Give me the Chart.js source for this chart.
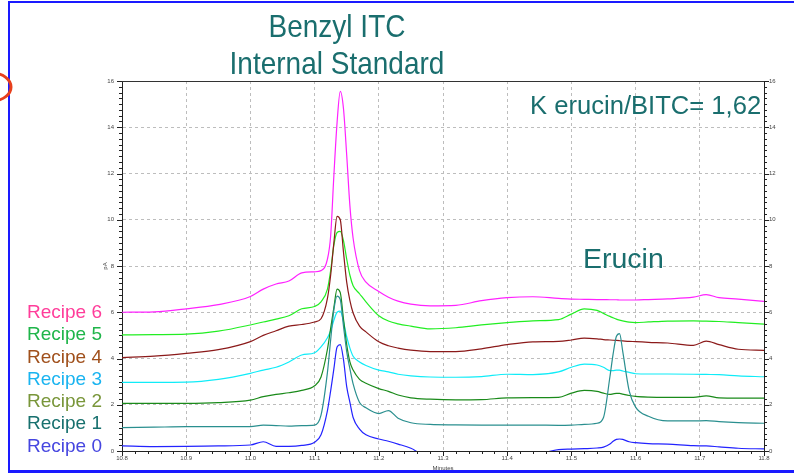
<!DOCTYPE html>
<html>
<head>
<meta charset="utf-8">
<script src="https://cdn.jsdelivr.net/npm/chart.js@4.4.1/dist/chart.umd.min.js"></script>
<style>
  html, body { margin: 0; padding: 0; background: #fff; }
</style>
</head>
<body>
<canvas id="chart" width="794" height="476"></canvas>
<script>
// retention time (minutes)
const minutes = [10.80, 10.85, 10.90, 10.95, 11.00, 11.02, 11.04, 11.06, 11.08, 11.10,
  11.11, 11.12, 11.125, 11.13, 11.135, 11.14, 11.145, 11.15, 11.155, 11.16,
  11.17, 11.18, 11.20, 11.215, 11.23, 11.25, 11.28, 11.32, 11.36, 11.40,
  11.44, 11.48, 11.50, 11.52, 11.54, 11.55, 11.56, 11.565, 11.57, 11.575,
  11.58, 11.59, 11.60, 11.62, 11.65, 11.69, 11.71, 11.73, 11.76, 11.80];

// signal (pA)
const recipe6 = [6.0, 6.02, 6.15, 6.33, 6.68, 7.0, 7.22, 7.35, 7.7, 7.75,
  7.8, 8.3, 9.3, 11.9, 14.2, 15.55, 14.8, 12.8, 10.6, 9.2,
  7.8, 7.3, 6.9, 6.65, 6.48, 6.35, 6.28, 6.3, 6.5, 6.63,
  6.67, 6.6, 6.57, 6.56, 6.55, 6.55, 6.54, 6.54, 6.54, 6.53,
  6.53, 6.53, 6.53, 6.55, 6.58, 6.65, 6.76, 6.63, 6.57, 6.47];
const recipe5 = [5.02, 5.03, 5.05, 5.18, 5.45, 5.58, 5.7, 5.85, 6.15, 6.25,
  6.45, 7.0, 7.8, 8.9, 9.45, 9.5, 9.1, 8.3, 7.6, 7.15,
  6.8, 6.45, 5.85, 5.62, 5.5, 5.4, 5.28, 5.33, 5.45, 5.55,
  5.63, 5.68, 5.92, 6.15, 6.08, 5.95, 5.82, 5.76, 5.7, 5.66,
  5.63, 5.57, 5.55, 5.58, 5.62, 5.63, 5.62, 5.6, 5.55, 5.49];
const recipe4 = [4.04, 4.1, 4.22, 4.38, 4.73, 5.0, 5.2, 5.4, 5.47, 5.58,
  5.72, 6.6, 7.6, 9.0, 10.15, 10.0, 8.6, 7.3, 6.5, 5.97,
  5.4, 5.15, 4.72, 4.55, 4.45, 4.36, 4.3, 4.3, 4.42, 4.6,
  4.72, 4.74, 4.8, 4.88, 4.85, 4.82, 4.8, 4.79, 4.78, 4.77,
  4.76, 4.74, 4.73, 4.7, 4.67, 4.57, 4.75, 4.6, 4.4, 4.35];
const recipe3 = [2.97, 2.97, 2.98, 3.1, 3.36, 3.5, 3.62, 3.85, 4.15, 4.25,
  4.5, 4.9, 5.2, 5.65, 6.0, 6.05, 5.6, 4.94, 4.45, 4.1,
  3.85, 3.7, 3.5, 3.42, 3.32, 3.25, 3.2, 3.19, 3.22, 3.32,
  3.3, 3.42, 3.62, 3.76, 3.72, 3.62, 3.48, 3.48, 3.5, 3.5,
  3.46, 3.4, 3.34, 3.33, 3.33, 3.32, 3.31, 3.3, 3.25, 3.21];
const recipe2 = [2.06, 2.06, 2.06, 2.09, 2.2, 2.35, 2.45, 2.52, 2.62, 2.82,
  3.2, 4.4, 5.3, 6.2, 7.0, 6.85, 5.7, 4.6, 3.85, 3.5,
  3.1, 2.93, 2.7, 2.58, 2.42, 2.3, 2.24, 2.21, 2.22, 2.3,
  2.31, 2.32, 2.5, 2.62, 2.58, 2.5, 2.45, 2.47, 2.49, 2.49,
  2.46, 2.4, 2.36, 2.33, 2.32, 2.32, 2.38, 2.3, 2.29, 2.29];
const recipe1 = [1.01, 1.03, 1.05, 1.05, 1.05, 1.12, 1.1, 1.08, 1.1, 1.12,
  1.55, 3.4, 4.8, 6.1, 6.7, 6.55, 5.4, 4.3, 3.55, 2.9,
  2.1, 1.87, 1.62, 1.75, 1.42, 1.22, 1.15, 1.13, 1.12, 1.12,
  1.12, 1.11, 1.12, 1.15, 1.2, 1.45, 3.21, 4.2, 4.95, 5.08,
  4.3, 2.6, 1.9, 1.5, 1.3, 1.3, 1.31, 1.27, 1.23, 1.2];
const recipe0 = [0.22, 0.19, 0.2, 0.22, 0.26, 0.4, 0.2, 0.2, 0.24, 0.38,
  0.7, 1.75, 2.6, 3.55, 4.5, 4.6, 3.95, 2.78, 2.1, 1.45,
  0.95, 0.7, 0.52, 0.42, 0.3, 0.12, -0.3, -0.3, -0.3, -0.3,
  -0.2, 0.06, 0.08, 0.1, 0.13, 0.17, 0.3, 0.42, 0.5, 0.52,
  0.5, 0.4, 0.36, 0.32, 0.3, 0.23, 0.22, 0.18, 0.12, 0.09];

const recipeNames = ["Recipe 0", "Recipe 1", "Recipe 2", "Recipe 3", "Recipe 4", "Recipe 5", "Recipe 6"];
const recipeValues = [recipe0, recipe1, recipe2, recipe3, recipe4, recipe5, recipe6];
const lineColors = ["#2323ff", "#2a8f8f", "#1a8a1a", "#10ecf8", "#8b1a1a", "#22ee22", "#ff22ff"];
const nameColors = ["#4646e0", "#17706e", "#79963a", "#1ab4f0", "#a0501c", "#1fb54a", "#ff3d9a"];

const titleLines = ["Benzyl ITC", "Internal Standard"];
const ratioText = "K erucin/BITC= 1,62";
const peakText = "Erucin";

const X_MIN = 10.8, X_MAX = 11.8, Y_MIN = 0, Y_MAX = 16;
const TEAL = "#1a6e6e";
const FONT = '"Liberation Sans", Arial, sans-serif';

const isMajorX = (v) => Math.abs(v * 10 - Math.round(v * 10)) < 1e-6;
const isMajorY = (v) => Math.abs(v / 2 - Math.round(v / 2)) < 1e-6;

// ticks, frame, texts
const decor = {
  id: "decor",
  beforeDraw(chart) {
    const ctx = chart.ctx;
    ctx.save();
    ctx.fillStyle = "#fff";
    ctx.fillRect(0, 0, chart.width, chart.height);
    ctx.restore();
  },
  afterDraw(chart) {
    const { ctx, chartArea: a, scales } = chart;
    ctx.save();

    // top of frame
    ctx.strokeStyle = "#333";
    ctx.lineWidth = 1;
    ctx.beginPath();
    ctx.moveTo(a.left, a.top + 0.5);
    ctx.lineTo(a.right, a.top + 0.5);
    ctx.stroke();

    // tick marks
    ctx.strokeStyle = "#222";
    ctx.beginPath();
    scales.x.ticks.forEach((t) => {
      const px = Math.round(scales.x.getPixelForValue(t.value)) + 0.5;
      const len = isMajorX(t.value) ? 5 : 3;
      ctx.moveTo(px, a.bottom);
      ctx.lineTo(px, a.bottom + len);
    });
    scales.y.ticks.forEach((t) => {
      const py = Math.round(scales.y.getPixelForValue(t.value)) + 0.5;
      const len = isMajorY(t.value) ? 5 : 3;
      ctx.moveTo(a.left - len, py);
      ctx.lineTo(a.left, py);
      ctx.moveTo(a.right, py);
      ctx.lineTo(a.right + len, py);
    });
    ctx.stroke();

    // axis captions
    ctx.fillStyle = "#444";
    ctx.font = "6px " + FONT;
    ctx.textAlign = "center";
    ctx.textBaseline = "middle";
    ctx.fillText("Minutes", (a.left + a.right) / 2, 468);
    ctx.save();
    ctx.translate(a.left - 17, (a.top + a.bottom) / 2);
    ctx.rotate(-Math.PI / 2);
    ctx.fillText("pA", 0, 0);
    ctx.restore();

    // title
    ctx.fillStyle = TEAL;
    ctx.textAlign = "center";
    ctx.textBaseline = "alphabetic";
    ctx.font = "28px " + FONT;
    [37, 74].forEach((y, i) => {
      ctx.save();
      ctx.translate(337, y);
      ctx.scale(1, 1.12);
      ctx.fillText(titleLines[i], 0, 0);
      ctx.restore();
    });

    // annotations
    ctx.textAlign = "left";
    ctx.font = "25.6px " + FONT;
    ctx.fillText(ratioText, 530, 114);
    ctx.font = "28.5px " + FONT;
    ctx.fillText(peakText, 583, 268);

    // recipe names
    ctx.textAlign = "right";
    ctx.textBaseline = "middle";
    ctx.font = "19px " + FONT;
    for (let i = 6; i >= 0; i--) {
      ctx.fillStyle = nameColors[i];
      ctx.fillText(recipeNames[i], 102, 312.7 + (6 - i) * 22.3);
    }

    // blue slide frame
    ctx.fillStyle = "#1a1aff";
    ctx.fillRect(8, 1, 2, 471);
    ctx.fillRect(8, 1, 786, 2);
    ctx.fillRect(8, 470, 786, 3);

    // red marker arc at left edge
    ctx.strokeStyle = "#e8401c";
    ctx.lineWidth = 3;
    ctx.beginPath();
    ctx.ellipse(-8, 87, 19, 14, 0, -Math.PI / 2, Math.PI / 2);
    ctx.stroke();

    ctx.restore();
  },
};

const datasets = recipeValues.map((vals, i) => ({
  label: recipeNames[i],
  data: minutes.map((m, j) => ({ x: m, y: vals[j] })),
  borderColor: lineColors[i],
  borderWidth: 1.2,
  pointRadius: 0,
  cubicInterpolationMode: "monotone",
  fill: false,
  clip: 0,
}));

const gridX = { color: (c) => (isMajorX(c.tick.value) ? "#bdbdbd" : "rgba(0,0,0,0)"), drawTicks: false, lineWidth: 1 };
const gridY = { color: (c) => (isMajorY(c.tick.value) ? "#bdbdbd" : "rgba(0,0,0,0)"), drawTicks: false, lineWidth: 1 };
const tickFont = { size: 6, family: FONT };

new Chart(document.getElementById("chart"), {
  type: "line",
  data: { datasets },
  options: {
    responsive: false,
    animation: false,
    devicePixelRatio: 1,
    layout: { padding: { top: 81, left: 0, right: 0, bottom: 0 } },
    plugins: { legend: { display: false }, tooltip: { enabled: false } },
    scales: {
      x: {
        type: "linear",
        min: X_MIN,
        max: X_MAX,
        grid: gridX,
        border: { color: "#222", dash: [3, 3] },
        ticks: {
          stepSize: 0.02,
          autoSkip: false,
          maxRotation: 0,
          padding: 4,
          color: "#444",
          font: tickFont,
          callback: (v) => (isMajorX(v) ? Number(v).toFixed(1) : ""),
        },
        afterFit: (s) => { s.height = 25; },
      },
      y: {
        min: Y_MIN,
        max: Y_MAX,
        grid: gridY,
        border: { color: "#222", dash: [3, 3] },
        ticks: {
          stepSize: 0.25,
          autoSkip: false,
          padding: 8,
          color: "#444",
          font: tickFont,
          callback: (v) => (isMajorY(v) ? String(Math.round(v)) : ""),
        },
        afterFit: (s) => { s.width = 122; },
      },
      y2: {
        position: "right",
        min: Y_MIN,
        max: Y_MAX,
        grid: { drawOnChartArea: false, drawTicks: false },
        border: { color: "#222" },
        ticks: {
          stepSize: 0.25,
          autoSkip: false,
          padding: 5,
          color: "#444",
          font: tickFont,
          callback: (v) => (isMajorY(v) ? String(Math.round(v)) : ""),
        },
        afterFit: (s) => { s.width = 30; },
      },
    },
  },
  plugins: [decor],
});
</script>
</body>
</html>
